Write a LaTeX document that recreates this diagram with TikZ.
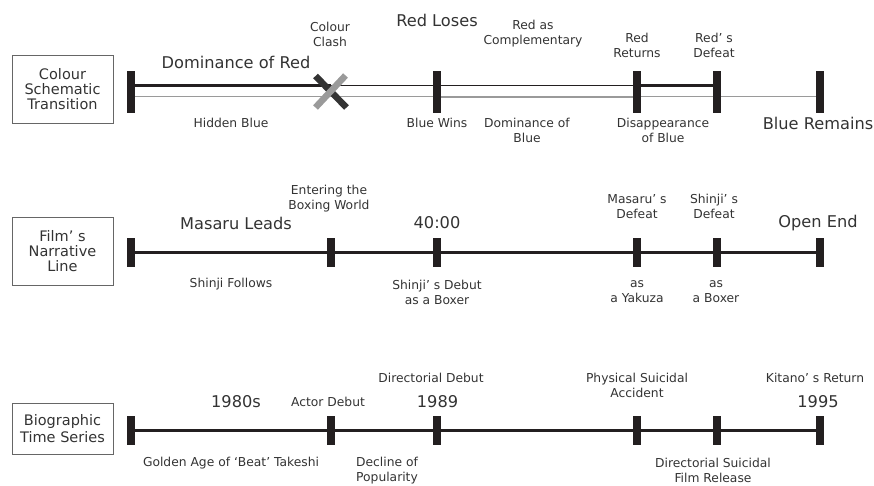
\documentclass[tikz,border=0pt]{standalone}
\usepackage{fontspec}
\setmainfont{DejaVu Sans}
\usetikzlibrary{calc}
\definecolor{ink}{HTML}{231F20}
\definecolor{txt}{HTML}{333333}
\definecolor{gline}{HTML}{9A9A9A}
\definecolor{boxc}{HTML}{666666}
\definecolor{xdark}{HTML}{333333}
\begin{document}
\begin{tikzpicture}[x=1pt,y=-1pt,
  tickA/.style={rectangle,fill=ink,inner sep=0pt,minimum width=7.5pt,minimum height=42pt},
  tickB/.style={rectangle,fill=ink,inner sep=0pt,minimum width=7.5pt,minimum height=29pt},
  sm/.style={font=\fontsize{12.3}{15}\selectfont,text=txt,align=center,inner sep=0pt},
  lg/.style={font=\fontsize{16.2}{19}\selectfont,text=txt,inner sep=0pt},
  lbox/.style={draw=boxc,line width=1pt,minimum width=101pt,text=txt,align=center,
    font=\fontsize{14.5}{15}\selectfont,inner sep=0pt},
  dk/.style={draw=ink},
  gr/.style={draw=gline},
  bar/.style={line width=6.5pt},
  mainline/.style={draw=ink,line width=2.6pt}
]
\useasboundingbox (0,0) rectangle (874,485);

% ---------- Row 1 ----------
\node[lbox,minimum height=68pt] (b1) at (62.5,89) {Colour\\Schematic\\Transition};
\node[tickA] (a1) at (131,92) {};
\node[tickA] (a2) at (437,92) {};
\node[tickA] (a3) at (637,92) {};
\node[tickA] (a4) at (717,92) {};
\node[tickA] (a5) at (820,92) {};
\coordinate (cr) at (331,92);

% dark (red) line
\draw[dk,line width=3pt] ([yshift=6.5pt]a1.east) -- ([yshift=6.5pt]cr);
\draw[dk,line width=1.8pt] ([yshift=6.5pt]cr) -- ([yshift=6.5pt]a2.west);
\draw[dk,line width=1.5pt] ([yshift=6.5pt]a2.east) -- ([yshift=6.5pt]a3.west);
\draw[dk,line width=3pt] ([yshift=6.5pt]a3.east) -- ([yshift=6.5pt]a4.west);
% gray (blue) line
\draw[gr,line width=1.3pt] ([yshift=-4.7pt]a1.east) -- ([yshift=-4.7pt]a2.west);
\draw[gr,line width=2.4pt] ([yshift=-4.7pt]a2.east) -- ([yshift=-4.7pt]a3.west);
\draw[gr,line width=1.3pt] ([yshift=-4.7pt]a3.east) -- ([yshift=-4.7pt]a4.west);
\draw[gr,line width=1.3pt] ([yshift=-4.7pt]a4.east) -- ([yshift=-4.7pt]a5.west);
% colour clash cross
\draw[xdark,bar] ($(cr)+(-15.5,-16)$) -- ($(cr)+(15.5,15.5)$);
\draw[gline,bar] ($(cr)+(14.5,-16.5)$) -- ($(cr)+(-15.5,15.5)$);

\node[lg] (t1) at (236,62) {Dominance of Red};
\node[sm] (t2) at (330,34.5) {Colour\\Clash};
\node[lg] (t3) at (437,20) {Red Loses};
\node[sm] (t4) at (533,34) {Red as\\Complementary};
\node[sm] (t5) at (637,45.5) {Red\\Returns};
\node[sm] (t6) at (714,45.5) {Red’ s\\Defeat};
\node[sm] (t7) at (231,123) {Hidden Blue};
\node[sm] (t8) at (437,123) {Blue Wins};
\node[sm] (t9) at (527,130.5) {Dominance of\\Blue};
\node[sm] (t10) at (663,130.5) {Disappearance\\of Blue};
\node[lg] (t11) at (818,123) {Blue Remains};

% ---------- Row 2 ----------
\node[lbox,minimum height=68pt] (b2) at (62.5,251) {Film’ s\\Narrative\\Line};
\node[tickB] (c1) at (131,252.5) {};
\node[tickB] (c2) at (331,252.5) {};
\node[tickB] (c3) at (437,252.5) {};
\node[tickB] (c4) at (637,252.5) {};
\node[tickB] (c5) at (717,252.5) {};
\node[tickB] (c6) at (820,252.5) {};
\draw[mainline] (c1.east) -- (c2.west);
\draw[mainline] (c2.east) -- (c3.west);
\draw[mainline] (c3.east) -- (c4.west);
\draw[mainline] (c4.east) -- (c5.west);
\draw[mainline] (c5.east) -- (c6.west);

\node[lg] (u1) at (236,223) {Masaru Leads};
\node[sm] (u2) at (329,198.5) {Entering the\\Boxing World};
\node[lg] (u3) at (437,223) {40:00};
\node[sm] (u4) at (637,206.5) {Masaru’ s\\Defeat};
\node[sm] (u5) at (714,206.5) {Shinji’ s\\Defeat};
\node[lg] (u6) at (818,223) {Open End};
\node[sm] (u7) at (231,284) {Shinji Follows};
\node[sm] (u8) at (437,292) {Shinji’ s Debut\\as a Boxer};
\node[sm] (u9) at (637,292) {as\\a Yakuza};
\node[sm] (u10) at (716,292) {as\\a Boxer};

% ---------- Row 3 ----------
\node[lbox,minimum height=51pt,font=\fontsize{14.5}{16.7}\selectfont] (b3) at (62.5,428.5) {Biographic\\Time Series};
\node[tickB] (d1) at (131,430.5) {};
\node[tickB] (d2) at (331,430.5) {};
\node[tickB] (d3) at (437,430.5) {};
\node[tickB] (d4) at (637,430.5) {};
\node[tickB] (d5) at (717,430.5) {};
\node[tickB] (d6) at (820,430.5) {};
\draw[mainline] (d1.east) -- (d2.west);
\draw[mainline] (d2.east) -- (d3.west);
\draw[mainline] (d3.east) -- (d4.west);
\draw[mainline] (d4.east) -- (d5.west);
\draw[mainline] (d5.east) -- (d6.west);

\node[lg] (v1) at (236,402) {1980s};
\node[sm] (v2) at (328,402) {Actor Debut};
\node[sm] (v3) at (431,378) {Directorial Debut};
\node[lg] (v4) at (437.5,402) {1989};
\node[sm] (v5) at (637,385.5) {Physical Suicidal\\Accident};
\node[sm] (v6) at (815,378) {Kitano’ s Return};
\node[lg] (v7) at (818,402) {1995};
\node[sm] (v8) at (231,463) {Golden Age of ‘Beat’ Takeshi};
\node[sm] (v9) at (387,470.5) {Decline of\\Popularity};
\node[sm] (v10) at (713,470.5) {Directorial Suicidal\\Film Release};
\end{tikzpicture}
\end{document}
